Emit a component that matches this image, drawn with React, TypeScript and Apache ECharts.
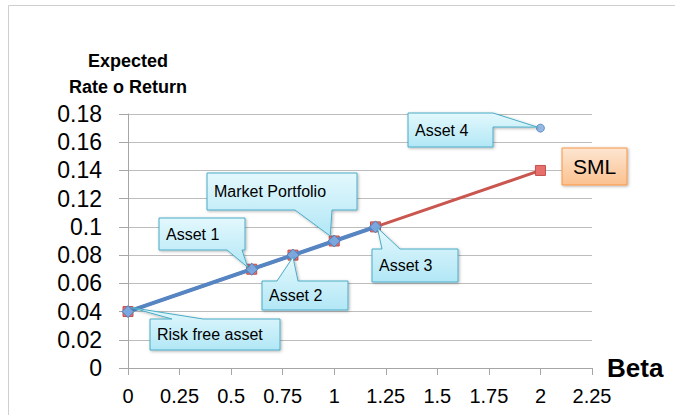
import React, { useEffect, useRef } from "react";
import * as echarts from "echarts";

const smlPoints: [number, number][] = [
  [0, 0.04],
  [0.6, 0.07],
  [0.8, 0.08],
  [1, 0.09],
  [1.2, 0.1],
  [2, 0.14],
];
const assetPoints: [number, number][] = [
  [0, 0.04],
  [0.6, 0.07],
  [0.8, 0.08],
  [1, 0.09],
  [1.2, 0.1],
];
const asset4Point: [number, number][] = [[2, 0.17]];

const calloutLabels = ["Risk free asset", "Asset 1", "Market Portfolio", "Asset 2", "Asset 3", "Asset 4"];
const calloutTargets: [number, number][] = [
  [0, 0.04],
  [0.6, 0.07],
  [1, 0.09],
  [0.8, 0.08],
  [1.2, 0.1],
  [2, 0.17],
];

type Side = "top" | "bottom" | "left" | "right";
interface CalloutLayout {
  box: [number, number, number, number];
  side: Side;
  a1: number;
  a2: number;
  off: [number, number];
}
const calloutLayouts: CalloutLayout[] = [
  { box: [150, 319, 130, 31], side: "top", a1: 22, a2: 53, off: [3, -4] },
  { box: [159, 218, 86, 32], side: "bottom", a1: 68, a2: 83, off: [-4, -2] },
  { box: [207, 173, 150, 37], side: "bottom", a1: 88, a2: 125, off: [-4, -5] },
  { box: [262, 281, 86, 29], side: "top", a1: 15, a2: 36, off: [0, 2] },
  { box: [372, 249, 86, 33], side: "top", a1: 10, a2: 28, off: [2, 1] },
  { box: [408, 113, 85, 34], side: "right", a1: 0, a2: 14, off: [-3, -1] },
];

const FONT = "Liberation Sans, Arial, sans-serif";

function calloutPoints(box: [number, number, number, number], side: Side, a1: number, a2: number, tip: number[]) {
  const [x, y, w, h] = box;
  const TL = [x, y], TR = [x + w, y], BR = [x + w, y + h], BL = [x, y + h];
  if (side === "top") return [TL, [x + a1, y], tip, [x + a2, y], TR, BR, BL];
  if (side === "right") return [TL, TR, [x + w, y + a1], tip, [x + w, y + a2], BR, BL];
  if (side === "bottom") return [TL, TR, BR, [x + a2, y + h], tip, [x + a1, y + h], BL];
  return [TL, TR, BR, BL, [x, y + a2], tip, [x, y + a1]];
}

export default function App() {
  const ref = useRef<HTMLDivElement>(null);
  useEffect(() => {
    if (!ref.current) return;
    const chart = echarts.init(ref.current, undefined, { renderer: "svg" });
    chart.setOption({
      animation: false,
      backgroundColor: "#ffffff",
      grid: { left: 128, right: 83, top: 114, bottom: 47, containLabel: false },
      xAxis: {
        type: "value",
        min: 0,
        max: 2.25,
        interval: 0.25,
        name: "Beta",
        nameLocation: "end",
        nameGap: 15,
        nameTextStyle: { fontFamily: FONT, fontWeight: "bold", fontSize: 26, color: "#000", padding: [0, 0, 6, 0] },
        axisLine: { show: true, lineStyle: { color: "#A6A6A6", width: 1 } },
        axisTick: { show: true, length: 7, lineStyle: { color: "#A6A6A6" } },
        axisLabel: { fontFamily: FONT, fontSize: 20, color: "#000", margin: 18 },
        splitLine: { show: false },
      },
      yAxis: {
        type: "value",
        min: 0,
        max: 0.18,
        interval: 0.02,
        name: "Expected\nRate o Return",
        nameLocation: "end",
        nameGap: 14,
        nameTextStyle: { fontFamily: FONT, fontWeight: "bold", fontSize: 18, lineHeight: 26, color: "#000", align: "center" },
        axisLine: { show: true, lineStyle: { color: "#A6A6A6", width: 1 } },
        axisTick: { show: true, length: 9, lineStyle: { color: "#A6A6A6" } },
        axisLabel: { fontFamily: FONT, fontSize: 23, color: "#000", margin: 26 },
        splitLine: { show: true, lineStyle: { color: "#BDBDBD", width: 1 } },
      },
      series: [
        {
          name: "SML",
          type: "line",
          data: smlPoints,
          symbol: "rect",
          symbolSize: 10,
          lineStyle: { color: "#C9564F", width: 3 },
          itemStyle: { color: "#E8706C", borderColor: "#C0504D", borderWidth: 1 },
          z: 2,
        },
        {
          name: "Assets",
          type: "line",
          data: assetPoints,
          symbol: "diamond",
          symbolSize: 12,
          lineStyle: { color: "#5585C2", width: 4 },
          itemStyle: { color: "#7BA7DE", borderColor: "#4F81BD", borderWidth: 1 },
          z: 3,
        },
        {
          name: "Asset 4",
          type: "scatter",
          data: asset4Point,
          symbol: "circle",
          symbolSize: 8,
          itemStyle: { color: "#7BA7DE", borderColor: "#4F81BD", borderWidth: 1 },
          z: 4,
        },
      ],
    });

    const blueFill = new echarts.graphic.LinearGradient(0, 0, 0, 1, [
      { offset: 0, color: "#E3F8FD" },
      { offset: 1, color: "#B2E7F6" },
    ]);
    const graphics: any[] = [
      {
        type: "rect",
        shape: { x: 8.5, y: 5.5, width: 700, height: 500 },
        style: { fill: "none", stroke: "#CFCFCF", lineWidth: 1 },
        silent: true,
        z: 0,
      },
    ];
    calloutLabels.forEach((label, i) => {
      const lay = calloutLayouts[i];
      const p = chart.convertToPixel({ gridIndex: 0 }, calloutTargets[i]) as number[];
      const tip = [p[0] + lay.off[0], p[1] + lay.off[1]];
      const pts = calloutPoints(lay.box, lay.side, lay.a1, lay.a2, tip);
      graphics.push({
        type: "polygon",
        shape: { points: pts },
        style: {
          fill: blueFill,
          stroke: "#4BACC6",
          lineWidth: 1,
          shadowBlur: 3,
          shadowOffsetX: 1,
          shadowOffsetY: 1,
          shadowColor: "rgba(0,0,0,0.3)",
        },
        z: 10,
      });
      graphics.push({
        type: "text",
        x: lay.box[0] + 7,
        y: lay.box[1] + lay.box[3] / 2,
        style: {
          text: label,
          fontFamily: FONT,
          fontSize: 16,
          fill: "#000",
          verticalAlign: "middle",
          align: "left",
        },
        z: 11,
      });
    });
    graphics.push({
      type: "rect",
      shape: { x: 562, y: 148, width: 65, height: 37 },
      style: {
        fill: new echarts.graphic.LinearGradient(0, 0, 0, 1, [
          { offset: 0, color: "#FDE6D2" },
          { offset: 1, color: "#FBC18F" },
        ]),
        stroke: "#F79646",
        lineWidth: 1,
        shadowBlur: 3,
        shadowOffsetX: 1,
        shadowOffsetY: 1,
        shadowColor: "rgba(0,0,0,0.3)",
      },
      z: 10,
    });
    graphics.push({
      type: "text",
      x: 594.5,
      y: 166.5,
      style: { text: "SML", fontFamily: FONT, fontSize: 21, fill: "#000", align: "center", verticalAlign: "middle" },
      z: 11,
    });
    chart.setOption({ graphic: graphics });

    return () => chart.dispose();
  }, []);
  return <div ref={ref} style={{ position: "fixed", left: 0, top: 0, width: 675, height: 415 }} />;
}
